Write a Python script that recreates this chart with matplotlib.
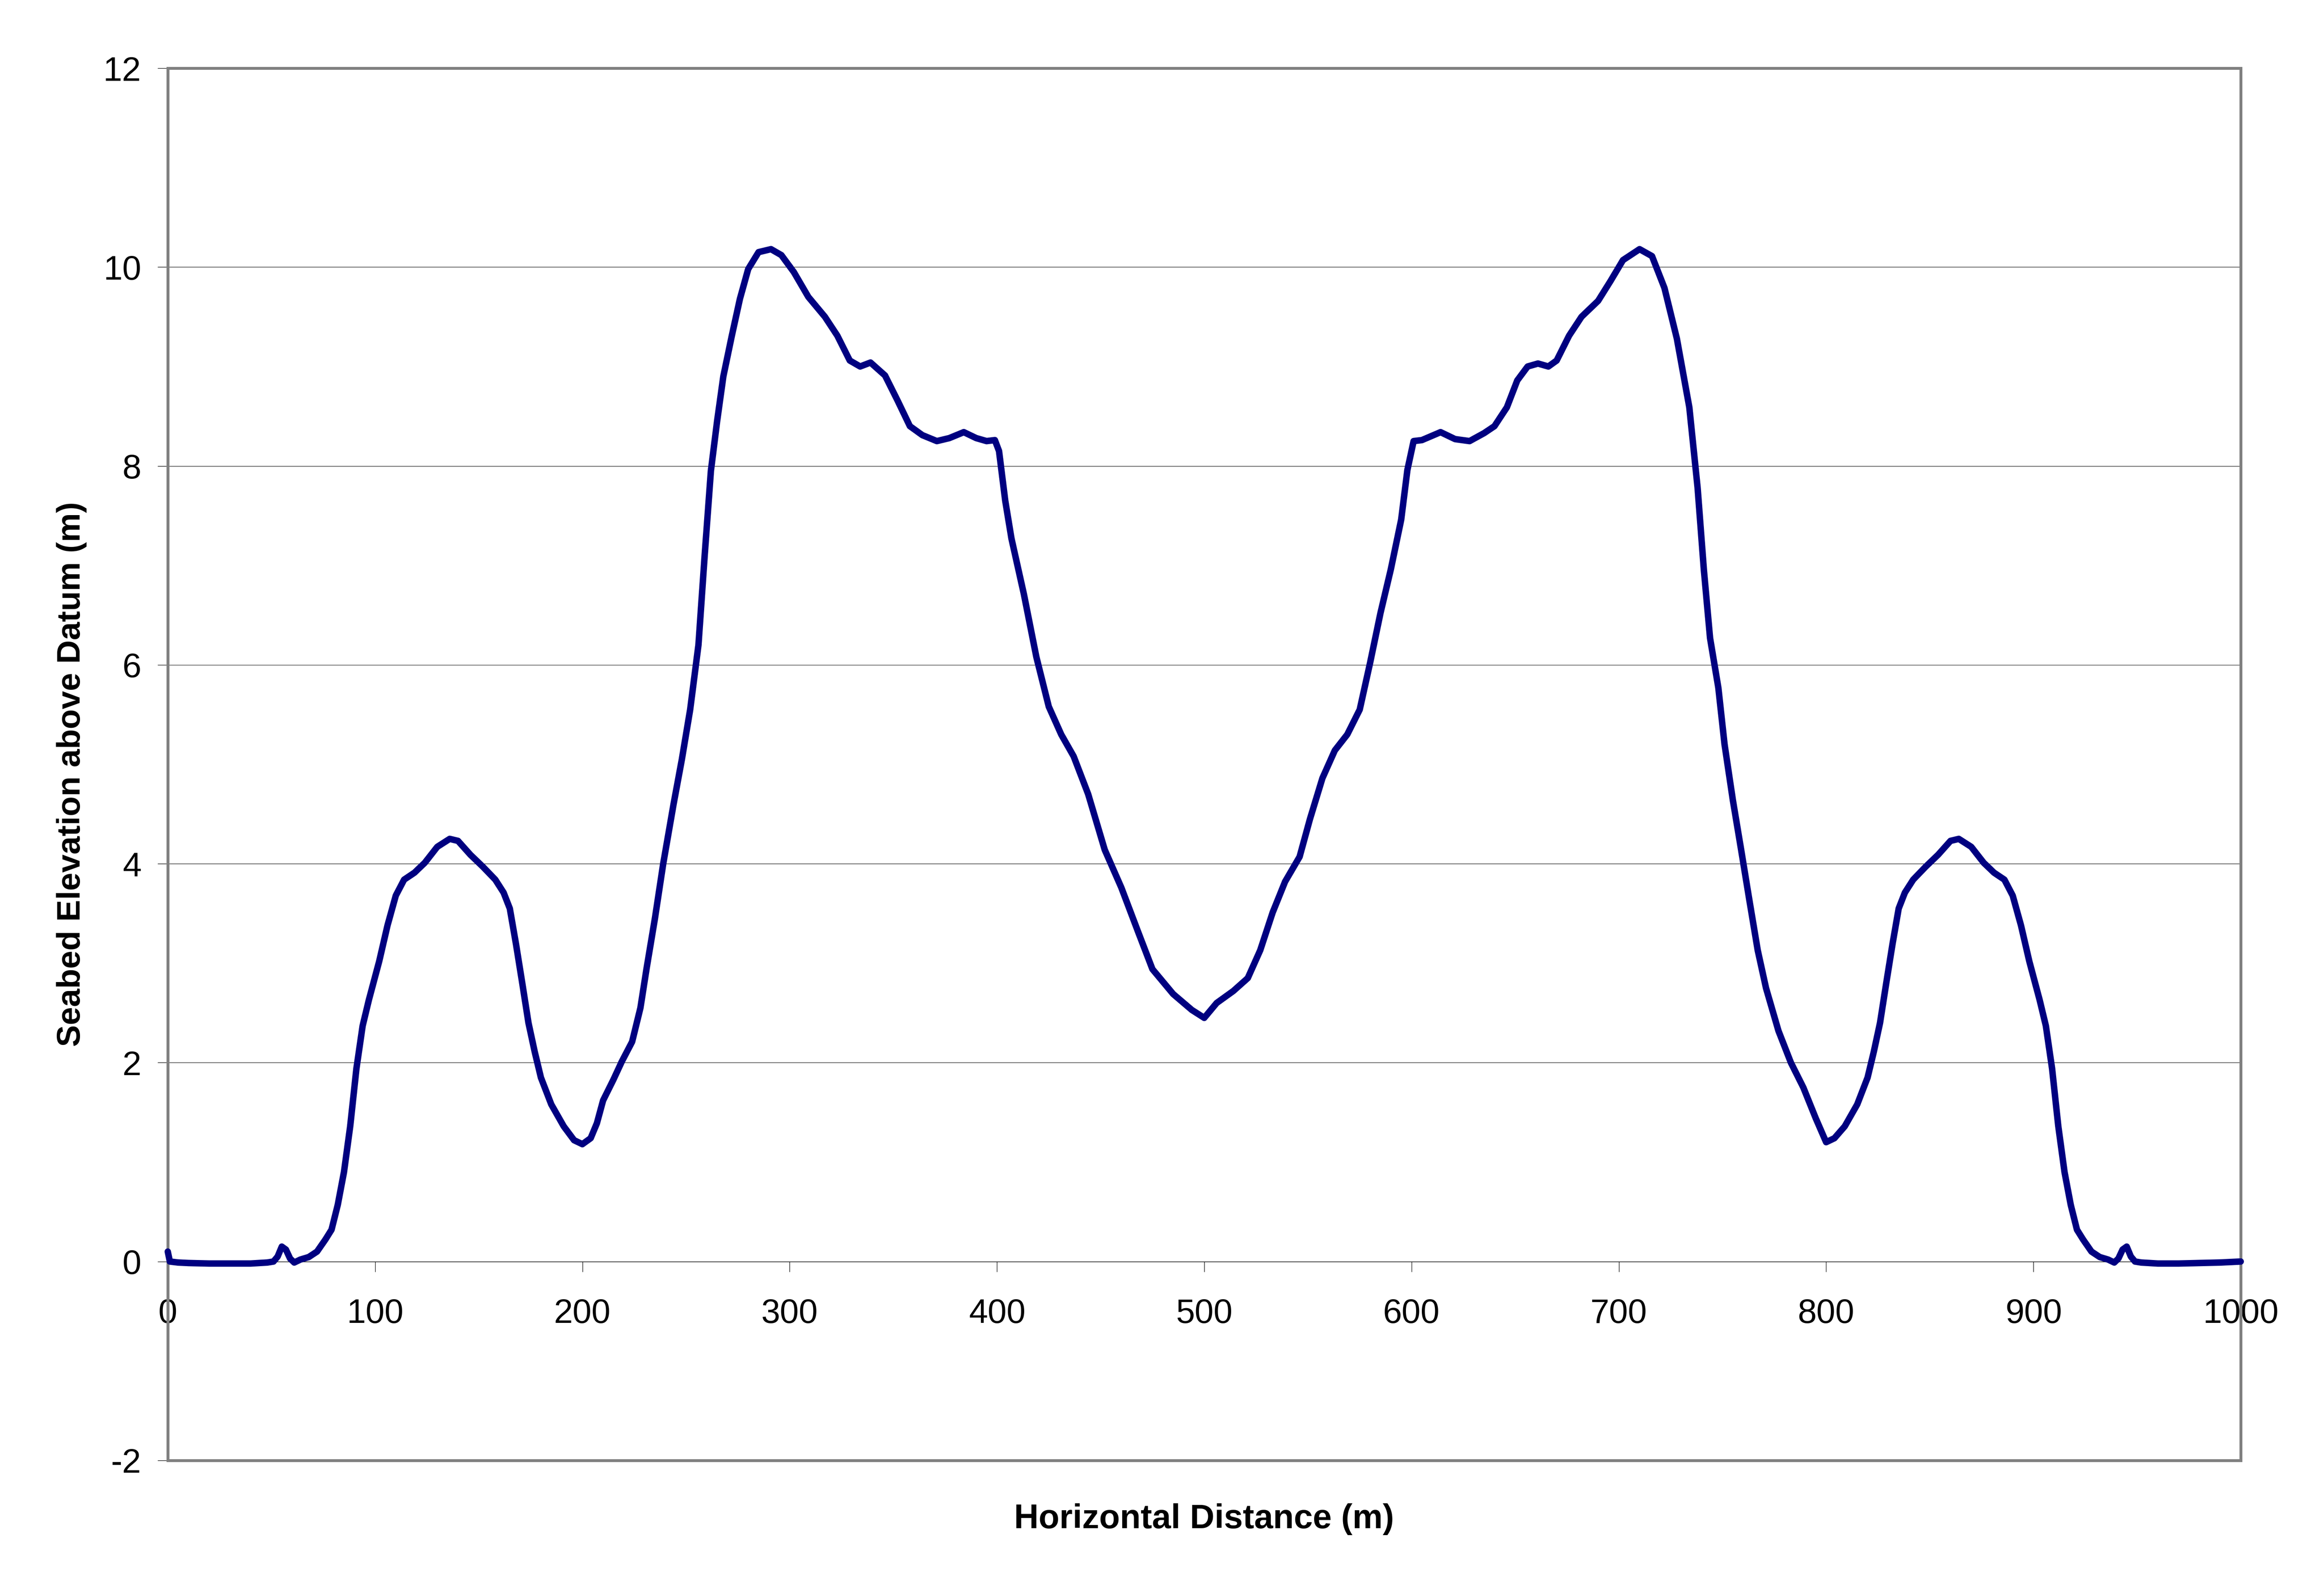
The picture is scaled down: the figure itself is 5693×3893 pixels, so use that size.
import matplotlib
matplotlib.use("Agg")
import matplotlib.pyplot as plt
from matplotlib.patches import Rectangle

plt.rcParams['font.family'] = ['Liberation Sans', 'DejaVu Sans']

# Horizontal distance (m) and seabed elevation above datum (m)
distance = [
    0, 1, 5, 10, 20, 30, 40, 48, 51, 53, 55, 57, 59, 61, 64, 68, 72, 76, 79, 82,
    85, 88, 91, 94, 97, 102, 106, 110, 114, 119, 124, 130, 136, 140, 146, 152, 158,
    162, 165, 168, 171, 174, 177, 180, 185, 191, 196, 200, 204, 207, 210, 215, 219,
    224, 228, 231, 235, 239, 244, 248, 252, 256, 259, 262, 265, 268, 272, 276, 280,
    285, 291, 296, 302, 309, 317, 323, 329, 334, 339, 346, 352, 358, 364, 371, 377,
    384, 390, 395, 399, 401, 404, 407, 413, 419, 425, 431, 437, 444, 452, 460, 468,
    475, 485, 494, 500,
    506, 514, 521, 527, 533, 539, 546, 551, 557, 563, 569, 575, 580, 585, 590, 595,
    598, 601, 605, 614, 621, 628, 635, 640, 646, 651, 656, 661, 666, 670, 676, 682,
    690, 696, 702, 710, 716, 722, 728, 734, 738, 741, 744, 748, 751, 755, 759, 763,
    767, 771, 777, 783, 789, 795, 800,
    804, 809, 815, 820, 823, 826, 829, 832, 835, 838, 842, 848, 854, 860, 864, 870,
    876, 881, 886, 890, 894, 898, 903, 906, 909, 912, 915, 918, 921, 924, 928, 932,
    936, 939, 941, 943, 945, 947, 949, 952, 960, 970, 980, 990, 1000,
]
elevation = [
    0.10, 0.00, -0.01, -0.015, -0.02, -0.02, -0.02, -0.01, 0.00, 0.05, 0.15, 0.12,
    0.03, -0.01, 0.02, 0.045, 0.10, 0.22, 0.32, 0.57,
    0.90, 1.36, 1.94, 2.37, 2.63, 3.02, 3.38, 3.68, 3.84, 3.91, 4.01, 4.17, 4.25,
    4.23, 4.09, 3.97, 3.84,
    3.71, 3.55, 3.19, 2.80, 2.40, 2.11, 1.85, 1.58, 1.36, 1.22, 1.18, 1.24, 1.39,
    1.62, 1.83, 2.01,
    2.21, 2.55, 2.95, 3.45, 4.00, 4.60, 5.05, 5.55, 6.20, 7.10, 7.95, 8.45, 8.90,
    9.30, 9.68, 9.98,
    10.15, 10.18, 10.12, 9.95, 9.70, 9.50, 9.31, 9.06, 9.00, 9.04, 8.91, 8.66, 8.40,
    8.31, 8.25, 8.28,
    8.34, 8.28, 8.25, 8.26, 8.15, 7.65, 7.27, 6.71, 6.08, 5.58, 5.30, 5.08, 4.70,
    4.14, 3.76, 3.32,
    2.94, 2.69, 2.53, 2.45,
    2.60, 2.72, 2.85, 3.13, 3.51, 3.82, 4.07, 4.45, 4.86, 5.14, 5.30, 5.55, 6.02,
    6.52, 6.96, 7.46,
    7.96, 8.25, 8.26, 8.34, 8.27, 8.25, 8.33, 8.40, 8.59, 8.86, 9.00, 9.03, 9.00,
    9.06, 9.31, 9.50,
    9.66, 9.86, 10.07, 10.18, 10.11, 9.79, 9.28, 8.59, 7.78, 6.96, 6.27, 5.77, 5.20,
    4.64, 4.14, 3.63,
    3.13, 2.75, 2.32, 2.00, 1.75, 1.44, 1.20,
    1.24, 1.36, 1.58, 1.85, 2.11, 2.40, 2.80, 3.19, 3.55, 3.71, 3.84, 3.97, 4.09,
    4.23, 4.25, 4.17,
    4.01, 3.91, 3.84, 3.68, 3.38, 3.02, 2.63, 2.37, 1.94, 1.36, 0.90, 0.57, 0.32,
    0.22, 0.10, 0.045,
    0.02, -0.01, 0.03, 0.12, 0.15, 0.05, 0.00, -0.01, -0.02, -0.02, -0.015, -0.01, 0.00,
]

x_ticks = [0, 100, 200, 300, 400, 500, 600, 700, 800, 900, 1000]
y_ticks = [-2, 0, 2, 4, 6, 8, 10, 12]
x_label = "Horizontal Distance (m)"
y_label = "Seabed Elevation above Datum (m)"

W, H, DPI = 5693, 3893, 300
fig = plt.figure(figsize=(W / DPI, H / DPI), dpi=DPI)
fig.patch.set_facecolor('white')

left_px, right_px, top_px, bottom_px = 411, 5489, 167, 3578
ax = fig.add_axes([left_px / W, 1 - bottom_px / H,
                   (right_px - left_px) / W, (bottom_px - top_px) / H])

ax.set_xlim(0, 1000)
ax.set_ylim(-2, 12)

# gridlines
ax.set_yticks(y_ticks)
ax.set_xticks(x_ticks)
ax.yaxis.grid(True, color='black', linewidth=0.25, zorder=0)
ax.set_axisbelow(True)

# data line
ax.plot(distance, elevation, color='#000080', linewidth=3.8,
        solid_joinstyle='round', solid_capstyle='round', zorder=5, clip_on=False)

# spines: x-axis at y=0, y-axis at x=0
for s in ['top', 'right']:
    ax.spines[s].set_visible(False)
ax.spines['bottom'].set_position(('data', 0))
ax.spines['bottom'].set_color('black')
ax.spines['bottom'].set_linewidth(0.35)
ax.spines['left'].set_color('black')
ax.spines['left'].set_linewidth(0.35)

# gray plot-area frame
frame = Rectangle((0, 0), 1, 1, transform=ax.transAxes, fill=False,
                  edgecolor='#808080', linewidth=1.7, clip_on=False, zorder=4)
ax.add_patch(frame)

ax.tick_params(axis='both', direction='out', length=6, width=0.3,
               color='black', labelsize=20)
ax.tick_params(axis='x', pad=15.4)
ax.tick_params(axis='y', pad=9.6)
ax.set_xticklabels([str(v) for v in x_ticks])
ax.set_yticklabels([str(v) for v in y_ticks])

fig.text(2949 / W, 1 - 3744 / H, x_label, ha='center', va='baseline',
         fontsize=20, fontweight='bold')
fig.text(196 / W, 1 - 1897 / H, y_label, ha='center', va='baseline',
         rotation=90, rotation_mode='anchor', fontsize=19.2, fontweight='bold')

fig.savefig('out.png', dpi=DPI, facecolor='white')
